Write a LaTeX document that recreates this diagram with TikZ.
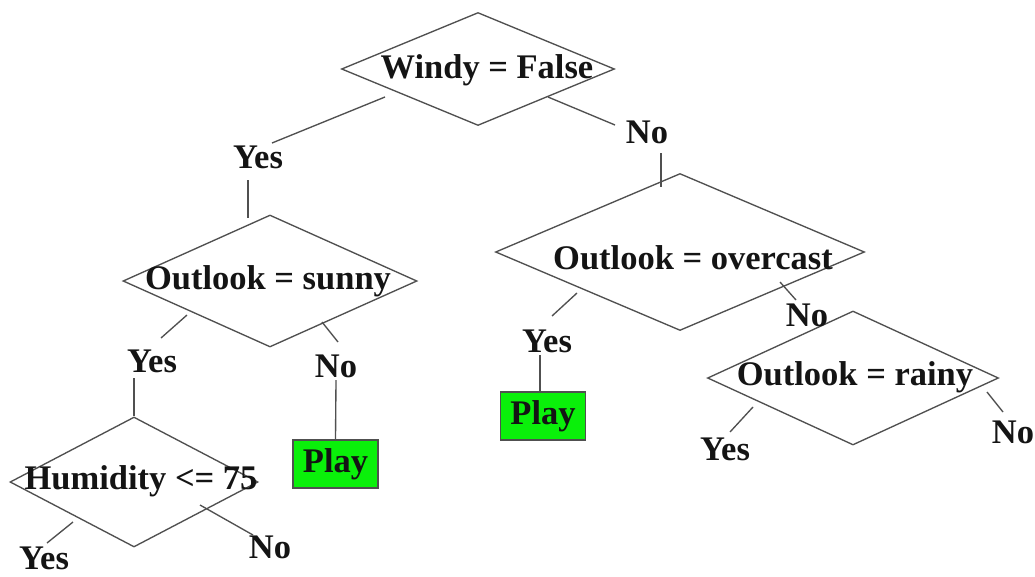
\documentclass[tikz,border=0pt]{standalone}
\usepackage{fontspec}
\setmainfont{Liberation Serif}
\usetikzlibrary{shapes.geometric}
\definecolor{edgegray}{RGB}{80,80,80}
\definecolor{leafgreen}{RGB}{10,240,10}
\definecolor{ink}{RGB}{20,20,20}
\tikzset{
  test/.style={diamond, draw=edgegray, line width=1.35pt, inner sep=0pt},
  txt/.style={inner sep=0pt, text=ink, font=\fontsize{34.5}{40}\selectfont\bfseries},
  leaf/.style={rectangle, draw=edgegray, line width=1.35pt, fill=leafgreen, inner sep=0pt,
    text=ink, font=\fontsize{34.5}{40}\selectfont\bfseries},
  edge/.style={draw=edgegray, line width=1.35pt}
}
\begin{document}
\begin{tikzpicture}[x=1pt, y=-1pt]
\useasboundingbox (0,0) rectangle (1035,576);

% decision nodes
\node[test, minimum width=273pt, minimum height=113pt] (windy) at (478,69) {};
\node[test, minimum width=294pt, minimum height=132pt] (sunny) at (270,281) {};
\node[test, minimum width=248pt, minimum height=130pt] (humid) at (134,482) {};
\node[test, minimum width=369pt, minimum height=157pt] (overc) at (680,252) {};
\node[test, minimum width=291pt, minimum height=134pt] (rainy) at (853,378) {};

% their captions
\node[txt] (twindy) at (487,70)  {Windy = False};
\node[txt] (tsunny) at (268,281) {Outlook = sunny};
\node[txt] (thumid) at (141,481) {Humidity <= 75};
\node[txt] (toverc) at (693,258) {Outlook = overcast};
\node[txt] (trainy) at (855,377) {Outlook = rainy};

% leaves
\node[leaf, minimum width=85pt, minimum height=48pt] (play1) at (335.5,464) {Play};
\node[leaf, minimum width=85pt, minimum height=48pt] (play2) at (543,416) {Play};

% branch labels
\node[txt] (yes1) at (258,157) {Yes};
\node[txt] (no1)  at (647,132) {No};
\node[txt] (yes2) at (152,361) {Yes};
\node[txt] (no2)  at (336,366) {No};
\node[txt] (yes3) at (44,558)  {Yes};
\node[txt] (no3)  at (270,547) {No};
\node[txt] (yes4) at (547,341) {Yes};
\node[txt] (no4)  at (807,315) {No};
\node[txt] (yes5) at (725,449) {Yes};
\node[txt] (no5)  at (1013,432) {No};

% connector end points
\coordinate (a1) at (385,97);   \coordinate (b1) at (272,143);
\coordinate (a2) at (248,180);  \coordinate (b2) at (248,218);
\coordinate (a3) at (548,97);   \coordinate (b3) at (615,125);
\coordinate (a4) at (661,153);  \coordinate (b4) at (661,187);
\coordinate (a5) at (187,315);  \coordinate (b5) at (161,338);
\coordinate (a6) at (134,378);
\coordinate (a7) at (322,322);  \coordinate (b7) at (338,342);
\coordinate (a8) at (336,380);
\coordinate (a9) at (73,522);   \coordinate (b9) at (47,543);
\coordinate (a10) at (200,505); \coordinate (b10) at (253,535);
\coordinate (a11) at (577,293); \coordinate (b11) at (552,316);
\coordinate (a12) at (540,355);
\coordinate (a13) at (780,282); \coordinate (b13) at (796,300);
\coordinate (a14) at (753,407); \coordinate (b14) at (730,432);
\coordinate (a15) at (987,392); \coordinate (b15) at (1003,412);

% connectors
\draw[edge] (a1) -- (b1);
\draw[edge] (a2) -- (b2);
\draw[edge] (a3) -- (b3);
\draw[edge] (a4) -- (b4);
\draw[edge] (a5) -- (b5);
\draw[edge] (a6) -- (humid.north);
\draw[edge] (a7) -- (b7);
\draw[edge] (a8) -- (play1.north);
\draw[edge] (a9) -- (b9);
\draw[edge] (a10) -- (b10);
\draw[edge] (a11) -- (b11);
\draw[edge] (a12) -- (play2.north -| a12);
\draw[edge] (a13) -- (b13);
\draw[edge] (a14) -- (b14);
\draw[edge] (a15) -- (b15);
\end{tikzpicture}
\end{document}
